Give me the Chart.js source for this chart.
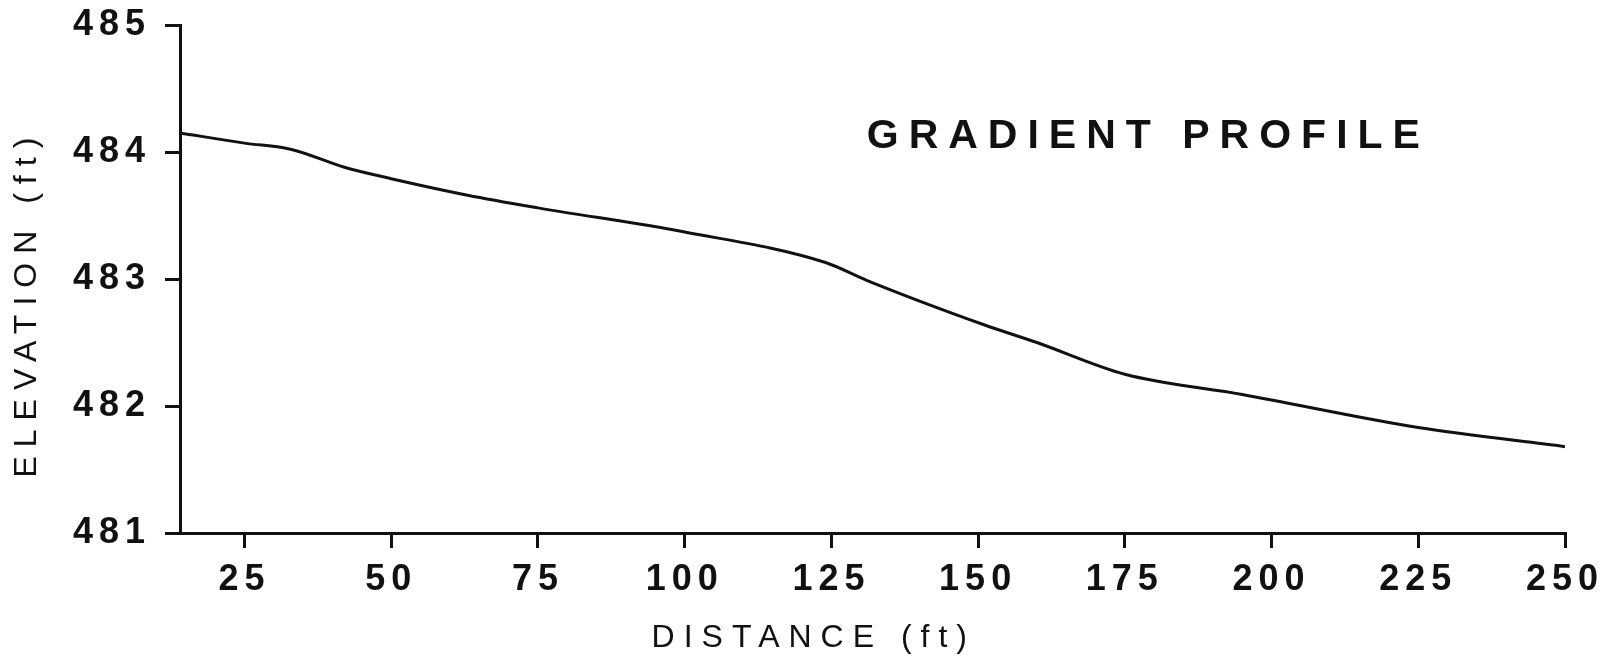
<!DOCTYPE html>
<html>
<head>
<meta charset="utf-8">
<script src="https://cdn.jsdelivr.net/npm/chart.js@4.4.0/dist/chart.umd.min.js"></script>
<style>
html, body { margin: 0; padding: 0; background: #fff; }
#wrap { width: 1610px; height: 656px; }
</style>
</head>
<body>
<div id="wrap"><canvas id="profile" width="1610" height="656"></canvas></div>
<script>
// distance along the reach (ft) and elevation (ft)
const distance = [14, 25, 33, 42, 50, 63, 75, 100, 124, 131, 151, 160, 175, 195, 225, 250];
const elevation = [484.15, 484.07, 484.02, 483.88, 483.79, 483.66, 483.56, 483.37, 483.13, 482.99, 482.64, 482.50, 482.25, 482.09, 481.83, 481.68];

// tick labels
const xTicks = [25, 50, 75, 100, 125, 150, 175, 200, 225, 250];
const yTicks = [481, 482, 483, 484, 485];

const chartTitle = 'GRADIENT PROFILE';
const xTitle = 'DISTANCE (ft)';
const yTitle = 'ELEVATION (ft)';

const ink = '#111111';
const fontFamily = '"Liberation Sans", Arial, sans-serif';

// titles are drawn by hand so they can sit where the original put them
const labelPlugin = {
    id: 'labelPlugin',
    beforeDraw(chart) {
        chart.ctx.letterSpacing = '6px';
    },
    afterDraw(chart) {
        const ctx = chart.ctx;
        const x = chart.scales.x;
        const y = chart.scales.y;
        ctx.save();
        ctx.fillStyle = ink;
        ctx.textAlign = 'center';
        ctx.textBaseline = 'middle';

        // chart title, inside the plot
        ctx.font = 'bold 41px ' + fontFamily;
        ctx.letterSpacing = '10px';
        ctx.fillText(chartTitle, x.getPixelForValue(179), y.getPixelForValue(484.12));

        // x axis title
        ctx.font = '32px ' + fontFamily;
        ctx.letterSpacing = '9px';
        ctx.fillText(xTitle, x.getPixelForValue(122), 638);

        // y axis title
        ctx.translate(27, y.getPixelForValue(482.81));
        ctx.rotate(-Math.PI / 2);
        ctx.letterSpacing = '9px';
        ctx.fillText(yTitle, 0, 0);
        ctx.restore();
    }
};

// keep the plot box where the original has it
function noScalePadding(scale) {
    scale.paddingTop = 0;
    scale.paddingBottom = 0;
    scale.paddingLeft = 0;
    scale.paddingRight = 0;
}

const ctx = document.getElementById('profile').getContext('2d');
new Chart(ctx, {
    type: 'line',
    data: {
        datasets: [{
            data: distance.map((d, i) => ({ x: d, y: elevation[i] })),
            borderColor: ink,
            borderWidth: 3,
            pointRadius: 0,
            fill: false,
            cubicInterpolationMode: 'monotone'
        }]
    },
    options: {
        responsive: false,
        animation: false,
        layout: {
            padding: { left: 0, top: 25, right: 45, bottom: 0 }
        },
        plugins: {
            legend: { display: false },
            tooltip: { enabled: false }
        },
        scales: {
            x: {
                type: 'linear',
                min: 14,
                max: 250,
                afterBuildTicks: (scale) => {
                    scale.ticks = xTicks.map(v => ({ value: v }));
                },
                afterFit: (scale) => {
                    scale.height = 123;
                    noScalePadding(scale);
                },
                grid: {
                    drawOnChartArea: false,
                    drawTicks: true,
                    tickLength: 15,
                    color: ink,
                    lineWidth: 3
                },
                border: { display: true, color: ink, width: 3 },
                ticks: {
                    color: ink,
                    padding: 10,
                    maxRotation: 0,
                    font: { family: fontFamily, size: 36, weight: 'bold' }
                }
            },
            y: {
                min: 481,
                max: 485,
                afterBuildTicks: (scale) => {
                    scale.ticks = yTicks.map(v => ({ value: v }));
                },
                afterFit: (scale) => {
                    scale.width = 180;
                    noScalePadding(scale);
                },
                grid: {
                    drawOnChartArea: false,
                    drawTicks: true,
                    tickLength: 15,
                    color: ink,
                    lineWidth: 3
                },
                border: { display: true, color: ink, width: 3 },
                ticks: {
                    color: ink,
                    padding: 14,
                    font: { family: fontFamily, size: 36, weight: 'bold' }
                }
            }
        }
    },
    plugins: [labelPlugin]
});
</script>
</body>
</html>
